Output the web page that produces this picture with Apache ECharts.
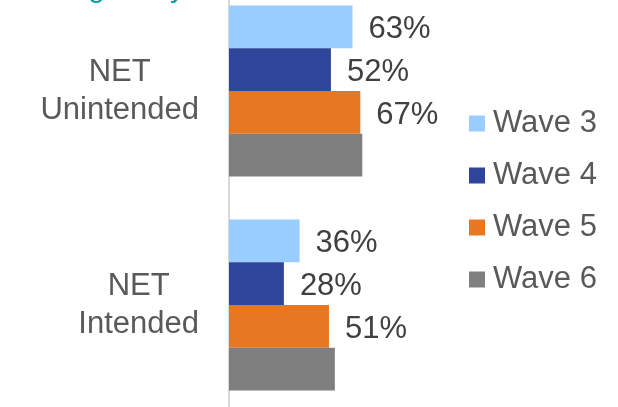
<!DOCTYPE html>
<html>
<head>
<meta charset="utf-8">
<script src="https://cdn.jsdelivr.net/npm/echarts@6/dist/echarts.min.js"></script>
<style>
  html, body { margin: 0; padding: 0; background: #fff; }
  #chart { width: 618px; height: 407px; }
</style>
</head>
<body>
<div id="chart"></div>
<script>
var categories = ["NET\nUnintended", "NET\nIntended"];
var waveNames = ["Wave 3", "Wave 4", "Wave 5", "Wave 6"];
var wave3 = [63, 36];
var wave4 = [52, 28];
var wave5 = [67, 51];
var wave6 = [68, 54];
var colors = ["#99CCFF", "#2E4599", "#E87722", "#7F7F7F"];

var font = "Liberation Sans, Arial, sans-serif";
var myChart = echarts.init(document.getElementById("chart"));

function makeSeries(name, data, color, showLabel) {
  return {
    name: name,
    type: "bar",
    data: data,
    barGap: "0%",
    barCategoryGap: "20%",
    itemStyle: { color: color },
    label: {
      show: showLabel,
      position: "right",
      distance: 16,
      offset: [0, 3],
      formatter: "{c}%",
      color: "#404040",
      fontSize: 31,
      fontFamily: font
    },
    silent: true
  };
}

var option = {
  animation: false,
  graphic: [{
    type: "text",
    left: 50,
    top: -26,
    style: {
      text: "Regularity",
      fill: "#00A19C",
      font: "30px " + font
    }
  }],
  grid: {
    left: 229, right: 193, top: -16, bottom: -5,
    containLabel: false,
    outerBoundsMode: "none"
  },
  legend: {
    orient: "vertical",
    left: 469,
    top: 108,
    padding: 0,
    itemWidth: 16,
    itemHeight: 16,
    itemGap: 21,
    icon: "rect",
    textStyle: { color: "#595959", fontSize: 31, fontFamily: font, padding: [0, 0, 0, 3] },
    data: waveNames
  },
  xAxis: {
    type: "value",
    min: 0,
    max: 100,
    show: false
  },
  yAxis: {
    type: "category",
    inverse: true,
    data: categories,
    axisLine: { lineStyle: { color: "#D9D9D9", width: 2 } },
    axisTick: { show: false },
    axisLabel: {
      margin: 30,
      formatter: function (value) {
        return value.split("\n").map(function (s) { return "{a|" + s + "}"; }).join("\n");
      },
      rich: {
        a: {
          color: "#595959",
          fontSize: 31,
          fontFamily: font,
          lineHeight: 38,
          align: "center"
        }
      }
    }
  },
  series: [
    makeSeries(waveNames[0], wave3, colors[0], true),
    makeSeries(waveNames[1], wave4, colors[1], true),
    makeSeries(waveNames[2], wave5, colors[2], true),
    makeSeries(waveNames[3], wave6, colors[3], false)
  ]
};
myChart.setOption(option);
</script>
</body>
</html>
